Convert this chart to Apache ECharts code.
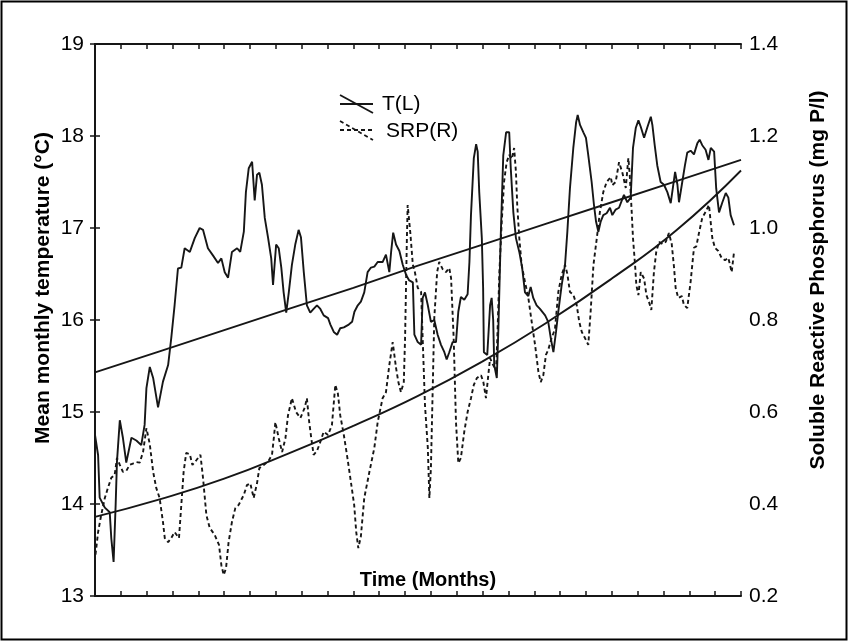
<!DOCTYPE html>
<html><head><meta charset="utf-8">
<script src="https://cdn.jsdelivr.net/npm/echarts@6/dist/echarts.min.js"></script>
<style>html,body{margin:0;padding:0;background:#fff}#c{width:848px;height:641px}</style>
</head><body><div id="c"></div>
<script>
// Tick labels
const tempTicks = [13, 14, 15, 16, 17, 18, 19];
const srpTicks = [0.2, 0.4, 0.6, 0.8, 1.0, 1.2, 1.4];
const monthRange = [0, 250];
const monthTickStep = 10;

// Mean monthly temperature (left axis)
const tMonth = [0,1.2,1.8,3.8,5.7,6.3,7.2,8.0,8.5,9.6,10.8,12.1,14.1,16.0,17.9,19.2,19.9,21.2,22.5,24.4,26.3,28.3,29.5,30.8,32.1,33.4,34.7,36.7,38.6,40.5,41.8,43.7,45.7,47.6,48.9,50.2,51.5,53.0,55.0,56.2,57.6,58.4,59.5,60.8,61.8,62.7,63.6,64.6,65.7,67.0,68.2,68.9,70.1,71.1,72.1,73.0,74.0,75.0,76.2,77.5,78.8,79.7,80.8,82.0,83.3,84.6,85.9,87.2,88.5,90.2,91.1,92.4,93.7,94.9,96.3,98.2,99.5,100.4,101.7,102.9,104.2,105.5,106.8,108.1,109.4,111.3,112.6,113.9,114.6,115.4,116.5,117.8,119.1,120.4,121.6,123.0,123.6,124.9,126.2,126.8,127.7,128.8,130.0,131.3,132.6,133.9,135.2,136.1,137.1,138.4,139.7,140.6,141.6,142.9,144.2,144.9,145.5,146.6,147.5,148.1,148.7,149.7,150.2,150.5,150.9,151.8,152.9,153.5,154.1,154.5,155.5,156.1,157.0,158.0,159.1,160.3,160.9,161.9,162.9,164.2,165.3,166.4,167.7,168.6,169.6,170.9,172.2,174.2,175.4,176.4,177.4,178.4,179.3,180.6,181.9,182.8,183.8,185.1,186.2,186.8,187.7,189.0,190.0,190.9,192.2,193.1,193.9,194.8,195.7,196.7,198.0,199.3,200.2,201.5,202.8,204.7,206.0,207.3,208.2,209.3,210.3,211.2,212.5,213.7,215.1,215.7,216.6,217.6,218.9,220.2,221.5,222.8,223.7,224.5,225.4,226.0,227.1,228.3,229.2,230.5,231.8,233.1,234.0,235.0,236.3,237.4,238.3,239.6,240.4,241.5,242.8,244.1,245.1,246.0,247.3];
const tTemp = [14.75,14.53,14.07,13.96,13.91,13.63,13.37,14.0,14.46,14.91,14.72,14.45,14.72,14.69,14.64,14.86,15.26,15.49,15.37,15.05,15.33,15.51,15.80,16.16,16.56,16.57,16.78,16.74,16.89,17.0,16.98,16.78,16.70,16.62,16.67,16.52,16.46,16.74,16.78,16.74,16.96,17.39,17.65,17.72,17.30,17.58,17.60,17.47,17.11,16.89,16.67,16.38,16.82,16.78,16.57,16.30,16.08,16.30,16.6,16.82,16.98,16.9,16.52,16.16,16.08,16.12,16.16,16.12,16.05,16.02,15.95,15.87,15.84,15.91,15.92,15.95,15.98,16.09,16.16,16.2,16.30,16.52,16.57,16.58,16.63,16.63,16.71,16.52,16.74,16.95,16.82,16.75,16.6,16.49,16.43,16.41,15.84,15.76,15.73,16.24,16.30,16.16,15.98,16.0,15.84,15.73,15.65,15.57,15.65,15.76,15.76,16.09,16.25,16.22,16.28,16.63,17.14,17.76,17.91,17.83,17.39,16.89,16.35,15.65,15.65,15.62,16.16,16.24,16.0,15.51,15.37,15.9,16.89,17.79,18.04,18.04,17.65,17.17,16.89,16.74,16.57,16.30,16.26,16.36,16.24,16.16,16.12,16.05,15.98,15.80,15.65,15.87,16.09,16.38,16.6,16.96,17.43,17.87,18.15,18.23,18.12,18.04,17.98,17.79,17.5,17.25,17.07,16.96,17.07,17.14,17.16,17.22,17.14,17.2,17.22,17.36,17.28,17.33,17.87,18.09,18.17,18.1,17.98,18.09,18.21,18.12,17.90,17.68,17.5,17.47,17.39,17.27,17.45,17.61,17.47,17.28,17.47,17.68,17.82,17.84,17.80,17.92,17.96,17.90,17.85,17.74,17.87,17.83,17.43,17.17,17.28,17.38,17.33,17.14,17.03];

// Soluble reactive phosphorus (right axis)
const srpMonth = [0.2,1.2,2.4,3.8,5.0,6.3,7.6,8.5,9.6,10.8,12.1,13.4,14.7,16.0,17.3,18.6,19.9,21.2,22.5,23.7,25.0,26.3,27.0,28.3,29.5,30.8,32.5,33.4,34.3,35.3,36.7,37.7,39.2,40.8,41.8,43.1,44.4,46.3,48.0,48.9,49.8,50.7,51.7,53.0,54.3,55.6,57.6,58.8,60.1,61.4,62.7,63.6,65.3,67.2,68.5,69.2,69.8,71.1,72.4,73.7,74.7,76.2,77.8,79.5,81.2,82.0,82.9,83.7,84.6,85.9,87.2,88.5,90.2,91.7,93.0,94.0,94.9,96.3,97.5,98.8,100.3,101.1,101.9,102.9,104.2,106.2,108.1,109.4,111.3,112.6,113.9,115.2,116.5,117.4,118.4,119.5,120.0,120.7,121.0,122.0,123.0,123.8,124.9,126.2,126.8,127.7,128.8,129.4,130.0,130.7,131.3,132.4,133.2,134.6,135.8,137.1,137.8,138.8,139.7,140.6,141.6,142.9,144.2,145.5,146.6,147.8,149.4,150.3,151.3,152.2,152.9,154.1,155.2,155.7,156.5,157.4,158.3,159.3,160.3,161.3,162.2,162.9,163.4,164.2,165.1,166.4,167.7,169.0,170.3,171.6,172.5,173.5,174.5,175.4,176.7,178.0,179.3,180.6,181.9,182.8,183.8,185.1,186.4,187.4,188.4,189.6,190.9,191.8,192.9,194.2,195.4,196.7,198.0,199.6,200.2,201.5,202.8,204.1,205.4,206.4,206.9,207.7,208.2,209.0,209.5,210.3,211.2,212.5,213.4,214.4,215.3,216.3,217.2,218.3,219.6,220.9,222.1,223.2,224.1,224.7,225.7,227.1,227.9,229.2,230.5,231.8,232.7,233.8,235.0,236.3,237.6,238.9,239.9,241.2,242.5,243.8,245.1,246.4,247.3];
const srpVal = [0.29,0.339,0.376,0.413,0.435,0.457,0.463,0.50,0.485,0.47,0.472,0.485,0.488,0.491,0.49,0.513,0.565,0.53,0.47,0.435,0.413,0.361,0.326,0.317,0.326,0.339,0.326,0.398,0.47,0.511,0.508,0.485,0.495,0.507,0.457,0.376,0.348,0.333,0.311,0.267,0.246,0.26,0.317,0.361,0.391,0.398,0.420,0.441,0.445,0.413,0.445,0.478,0.485,0.494,0.507,0.543,0.578,0.543,0.513,0.543,0.593,0.63,0.60,0.587,0.61,0.63,0.578,0.543,0.507,0.515,0.535,0.557,0.55,0.572,0.659,0.64,0.593,0.55,0.507,0.457,0.398,0.339,0.304,0.33,0.413,0.47,0.522,0.578,0.63,0.643,0.702,0.752,0.696,0.665,0.643,0.665,0.761,0.978,1.05,0.991,0.92,0.904,0.870,0.861,0.761,0.615,0.522,0.413,0.478,0.652,0.804,0.904,0.926,0.91,0.904,0.913,0.891,0.761,0.578,0.489,0.5,0.557,0.60,0.63,0.659,0.674,0.680,0.665,0.63,0.68,0.717,0.702,0.69,0.761,0.904,1.013,1.10,1.143,1.159,1.15,1.174,1.122,1.05,0.978,0.92,0.883,0.848,0.796,0.746,0.687,0.665,0.68,0.724,0.735,0.761,0.78,0.861,0.898,0.92,0.90,0.861,0.855,0.833,0.796,0.774,0.761,0.746,0.817,0.92,0.978,1.035,1.078,1.10,1.111,1.093,1.10,1.143,1.12,1.087,1.152,1.12,1.035,0.978,0.92,0.876,0.854,0.904,0.89,0.854,0.839,0.822,0.904,0.948,0.970,0.965,0.970,0.989,0.965,0.913,0.870,0.848,0.852,0.833,0.826,0.883,0.957,0.96,0.991,1.022,1.035,1.05,0.978,0.957,0.95,0.935,0.93,0.935,0.904,0.948];

// Trend lines
const trendMonth = [0, 25, 50, 75, 100, 125, 150, 175, 200, 225, 250];
const tTrend = [15.43, 15.66, 15.89, 16.12, 16.35, 16.59, 16.82, 17.05, 17.28, 17.51, 17.74];
const srpTrend = [0.372, 0.41, 0.455, 0.51, 0.57, 0.635, 0.71, 0.795, 0.89, 0.995, 1.125];

const ink = '#161616';
const font = '"Liberation Sans", Arial, sans-serif';
const zip = (xs, ys) => xs.map((x, i) => [x, ys[i]]);

const axisCommon = {
  axisLine: { show: true, lineStyle: { color: ink, width: 2 } },
  axisTick: { show: true, inside: true, length: 5, lineStyle: { color: ink, width: 1.5 } },
  splitLine: { show: false }
};

const chart = echarts.init(document.getElementById('c'), null, { renderer: 'canvas' });
chart.setOption({
  animation: false,
  backgroundColor: '#fff',
  grid: { left: 95, right: 107, top: 44, bottom: 45, show: false },
  xAxis: [
    Object.assign({ type: 'value', position: 'bottom', min: monthRange[0], max: monthRange[1], interval: monthTickStep,
      axisLabel: { show: false } }, axisCommon),
    Object.assign({ type: 'value', position: 'top', min: monthRange[0], max: monthRange[1], interval: monthTickStep,
      axisLabel: { show: false } }, axisCommon)
  ],
  yAxis: [
    Object.assign({ type: 'value', position: 'left', min: tempTicks[0], max: tempTicks[tempTicks.length - 1],
      interval: tempTicks[1] - tempTicks[0],
      axisLabel: { color: '#000', fontSize: 21, fontFamily: font, margin: 11 } }, axisCommon),
    Object.assign({ type: 'value', position: 'right', min: srpTicks[0], max: srpTicks[srpTicks.length - 1],
      interval: +(srpTicks[1] - srpTicks[0]).toFixed(3),
      axisLabel: { color: '#000', fontSize: 21, fontFamily: font, margin: 8, formatter: v => (+v).toFixed(1) } }, axisCommon)
  ],
  series: [
    { type: 'line', xAxisIndex: 0, yAxisIndex: 0, data: zip(tMonth, tTemp), symbol: 'none',
      lineStyle: { color: ink, width: 1.9 } },
    { type: 'line', xAxisIndex: 0, yAxisIndex: 1, data: zip(srpMonth, srpVal), symbol: 'none',
      lineStyle: { color: ink, width: 1.9, type: [4, 3] } },
    { type: 'line', xAxisIndex: 0, yAxisIndex: 0, data: zip(trendMonth, tTrend), symbol: 'none',
      lineStyle: { color: ink, width: 1.9 } },
    { type: 'line', xAxisIndex: 0, yAxisIndex: 1, data: zip(trendMonth, srpTrend), symbol: 'none', smooth: true,
      lineStyle: { color: ink, width: 1.9 } }
  ],
  graphic: [
    { type: 'rect', shape: { x: 1.5, y: 1.5, width: 845, height: 638 }, style: { fill: 'none', stroke: '#000', lineWidth: 2 }, silent: true },
    { type: 'text', x: 43, y: 288, rotation: Math.PI / 2,
      style: { text: 'Mean monthly temperature (°C)', fill: '#000', font: 'bold 21px ' + font, textAlign: 'center', textVerticalAlign: 'middle' } },
    { type: 'text', x: 818, y: 280, rotation: Math.PI / 2,
      style: { text: 'Soluble Reactive Phosphorus (mg P/l)', fill: '#000', font: 'bold 21px ' + font, textAlign: 'center', textVerticalAlign: 'middle' } },
    { type: 'text', x: 428, y: 580,
      style: { text: 'Time (Months)', fill: '#000', font: 'bold 20px ' + font, textAlign: 'center', textVerticalAlign: 'middle' } },
    // legend
    { type: 'line', shape: { x1: 340, y1: 104, x2: 373, y2: 104 }, style: { stroke: ink, lineWidth: 1.8 } },
    { type: 'line', shape: { x1: 340, y1: 95, x2: 373, y2: 113 }, style: { stroke: ink, lineWidth: 1.8 } },
    { type: 'line', shape: { x1: 340, y1: 130, x2: 373, y2: 130 }, style: { stroke: ink, lineWidth: 1.8, lineDash: [4, 3] } },
    { type: 'line', shape: { x1: 340, y1: 121, x2: 373, y2: 140 }, style: { stroke: ink, lineWidth: 1.8, lineDash: [4, 3] } },
    { type: 'text', x: 382, y: 104, style: { text: 'T(L)', fill: '#000', font: '21px ' + font, textVerticalAlign: 'middle' } },
    { type: 'text', x: 386, y: 131, style: { text: 'SRP(R)', fill: '#000', font: '21px ' + font, textVerticalAlign: 'middle' } }
  ]
});
</script></body></html>
